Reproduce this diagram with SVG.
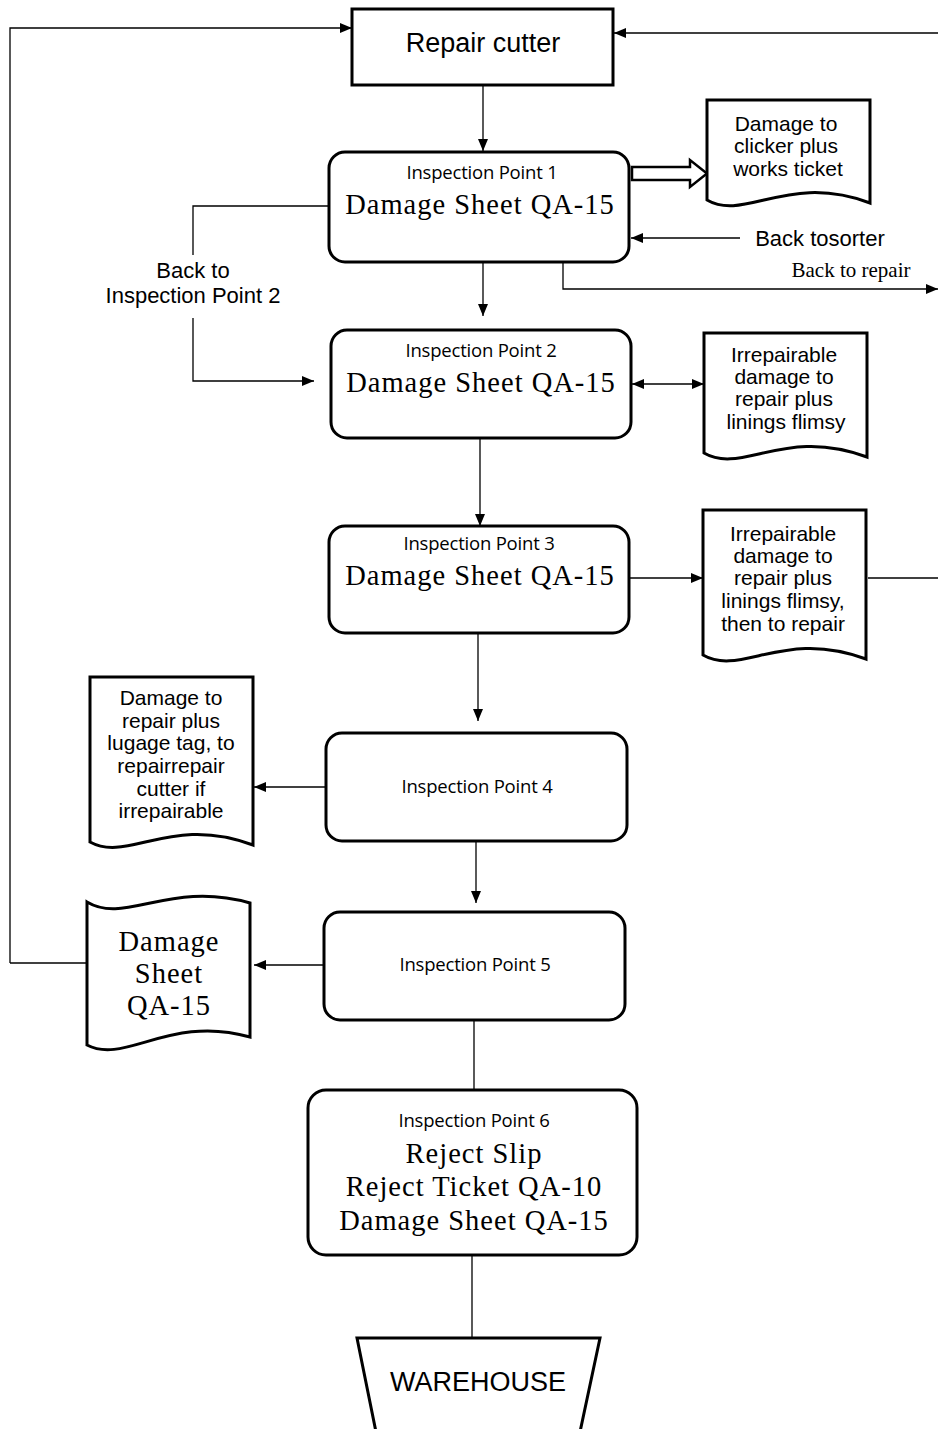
<svg xmlns="http://www.w3.org/2000/svg" width="938" height="1429" viewBox="0 0 938 1429">
<defs>
<marker id="ah" viewBox="0 0 12 10" refX="12" refY="5" markerWidth="12" markerHeight="10" markerUnits="userSpaceOnUse" orient="auto-start-reverse">
<path d="M0,0 L12,5 L0,10 Z" fill="#000"/>
</marker>
<style>
.box{fill:#fff;stroke:#000;stroke-width:3}
.doc{fill:#fff;stroke:#000;stroke-width:3;stroke-linejoin:miter}
.ln{fill:none;stroke:#000;stroke-width:1.3}
.ar{fill:none;stroke:#000;stroke-width:1.3;marker-end:url(#ah)}
.sans{font-family:"Liberation Sans",Arial,sans-serif;font-size:22px;text-anchor:middle;fill:#000}
.dt{font-family:"Liberation Sans",Arial,sans-serif;font-size:21px;text-anchor:middle;fill:#000}
.ip{font-family:"Open Sans","DejaVu Sans",sans-serif;font-size:18.5px;text-anchor:middle;fill:#000;letter-spacing:-0.2px}
.ser{font-family:"Liberation Serif","Times New Roman",serif;font-size:28.5px;text-anchor:middle;fill:#000;letter-spacing:1px}
</style>
</defs>
<g id="connectors">
<path class="ar" d="M10,963 L10,28 L352,28"/>
<path class="ln" d="M87,963 L10,963"/>
<path class="ar" d="M938,33 L614,33"/>
<path class="ar" d="M483,85 L483,151"/>
<path class="ar" d="M740,238 L631,238"/>
<path class="ar" d="M563,263 L563,289 L938,289"/>
<path class="ln" d="M328,206 L193,206 L193,255"/>
<path class="ar" d="M193,318 L193,381 L314,381"/>
<path class="ar" d="M483,263 L483,316"/>
<path class="ar" d="M632,384 L704,384" style="marker-start:url(#ah)"/>
<path class="ar" d="M480,439 L480,526"/>
<path class="ar" d="M630,578 L703,578"/>
<path class="ln" d="M868,578 L938,578"/>
<path class="ar" d="M478,634 L478,721"/>
<path class="ar" d="M325,787 L254,787"/>
<path class="ar" d="M476,842 L476,903"/>
<path class="ar" d="M323,965 L254,965"/>
<path class="ln" d="M474,1021 L474,1089"/>
<path class="ln" d="M472,1256 L472,1338"/>
<path d="M632,167 L690,167 L690,160 L707,173.5 L690,187 L690,180 L632,180 Z" fill="#fff" stroke="#000" stroke-width="2.5" stroke-linejoin="miter"/>
</g>
<g id="labels">
<text class="sans" x="820" y="246">Back tosorter</text>
<text x="851" y="277" style="font-family:'Liberation Serif',serif;font-size:21px;text-anchor:middle">Back to repair</text>
<text class="sans" x="193" y="278">Back to</text>
<text class="sans" x="193" y="303">Inspection Point 2</text>
</g>
<g id="repair-cutter">
<rect class="box" x="352" y="9" width="261" height="76"/>
<text class="sans" x="483" y="52" style="font-size:27px">Repair cutter</text>
</g>
<g id="ip1">
<rect class="box" x="329" y="152" width="300" height="110" rx="16"/>
<text class="ip" x="482" y="179">Inspection Point 1</text>
<text class="ser" x="480" y="214">Damage Sheet QA-15</text>
</g>
<g id="doc1">
<path class="doc" d="M707,100 L870,100 L870,203 C788,172 745,222 707,200 Z"/>
<text class="dt" x="786" y="131">Damage to</text>
<text class="dt" x="786" y="153">clicker plus</text>
<text class="dt" x="788" y="176">works ticket</text>
</g>
<g id="ip2">
<rect class="box" x="331" y="330" width="300" height="108" rx="16"/>
<text class="ip" x="481" y="357">Inspection Point 2</text>
<text class="ser" x="481" y="392">Damage Sheet QA-15</text>
</g>
<g id="doc2">
<path class="doc" d="M704,333 L867,333 L867,457 C785,426 742,475 704,453 Z"/>
<text class="dt" x="784" y="362">Irrepairable</text>
<text class="dt" x="784" y="384">damage to</text>
<text class="dt" x="784" y="406">repair plus</text>
<text class="dt" x="786" y="429">linings flimsy</text>
</g>
<g id="ip3">
<rect class="box" x="329" y="526" width="300" height="107" rx="16"/>
<text class="ip" x="479" y="550">Inspection Point 3</text>
<text class="ser" x="480" y="585">Damage Sheet QA-15</text>
</g>
<g id="doc3">
<path class="doc" d="M703,510 L866,510 L866,659 C784,628 741,677 703,655 Z"/>
<text class="dt" x="783" y="541">Irrepairable</text>
<text class="dt" x="783" y="563">damage to</text>
<text class="dt" x="783" y="585">repair plus</text>
<text class="dt" x="783" y="608">linings flimsy,</text>
<text class="dt" x="783" y="631">then to repair</text>
</g>
<g id="ip4">
<rect class="box" x="326" y="733" width="301" height="108" rx="16"/>
<text class="ip" x="477" y="793">Inspection Point 4</text>
</g>
<g id="doc4">
<path class="doc" d="M90,677 L253,677 L253,845 C171,814 128,863 90,842 Z"/>
<text class="dt" x="171" y="705">Damage to</text>
<text class="dt" x="171" y="728">repair plus</text>
<text class="dt" x="171" y="750">lugage tag, to</text>
<text class="dt" x="171" y="773">repairrepair</text>
<text class="dt" x="171" y="796">cutter if</text>
<text class="dt" x="171" y="818">irrepairable</text>
</g>
<g id="ip5">
<rect class="box" x="324" y="912" width="301" height="108" rx="16"/>
<text class="ip" x="475" y="971">Inspection Point 5</text>
</g>
<g id="doc5">
<path class="doc" d="M87,902 C125,925 170,880 250,903 L250,1037 C170,1014 125,1065 87,1045 Z"/>
<text class="ser" x="169" y="951">Damage</text>
<text class="ser" x="169" y="983">Sheet</text>
<text class="ser" x="169" y="1015">QA-15</text>
</g>
<g id="ip6">
<rect class="box" x="308" y="1090" width="329" height="165" rx="18"/>
<text class="ip" x="474" y="1127">Inspection Point 6</text>
<text class="ser" x="474" y="1163">Reject Slip</text>
<text class="ser" x="474" y="1196">Reject Ticket QA-10</text>
<text class="ser" x="474" y="1230">Damage Sheet QA-15</text>
</g>
<g id="warehouse">
<path class="doc" d="M376,1432 L357,1338 L600,1338 L580,1432"/>
<text class="sans" x="478" y="1391" style="font-size:27px">WAREHOUSE</text>
</g>
</svg>
